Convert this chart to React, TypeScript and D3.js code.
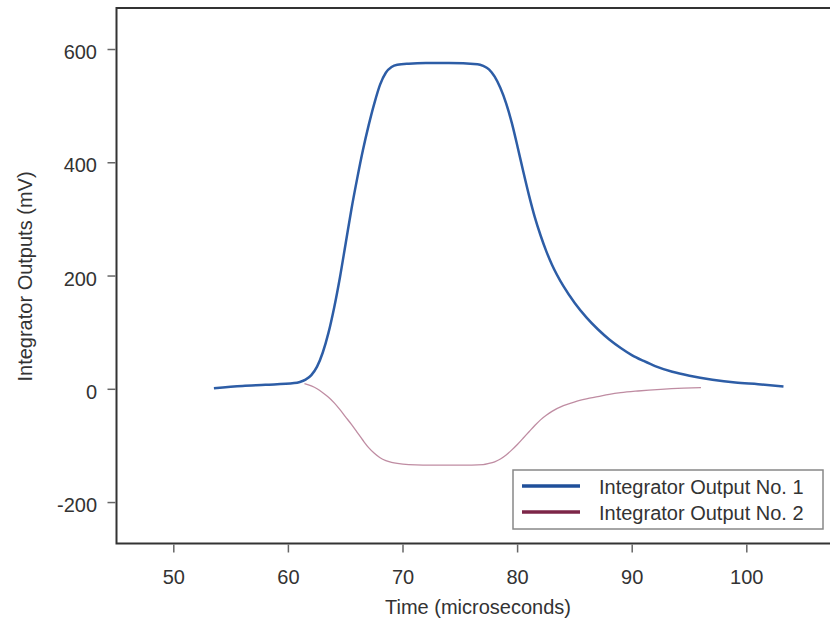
import React from "react";
import * as d3 from "d3";

const xTicks = [50, 60, 70, 80, 90, 100];
const yTicks = [-200, 0, 200, 400, 600];

const out1X = [53.5, 56, 58, 60.5, 61.0, 61.5, 62.0, 62.5, 63.0, 63.5, 64.0, 64.5, 65.0, 65.5, 66.0, 66.5, 67.0, 67.5, 68.0, 68.5, 69.0, 69.5, 70.5, 72, 74, 76.5, 77.0, 77.5, 78.0, 78.5, 79.0, 79.5, 80.0, 80.5, 81.0, 81.5, 82.0, 82.5, 83.0, 84.0, 85.0, 86.0, 87.0, 88.0, 89.0, 90.0, 91.0, 92.0, 93.5, 95.0, 97.0, 99.0, 101.0, 103.2];
const out1Y = [2, 6, 8, 11, 13, 17, 25, 40, 65, 100, 145, 198, 258, 318, 372, 422, 466, 505, 538, 559, 569, 573, 575, 576, 576, 574, 571, 565, 552, 532, 505, 470, 428, 384, 342, 304, 272, 244, 220, 182, 152, 127, 106, 88, 73, 60, 50, 41, 31, 24, 17, 12, 9, 5];

const out2X = [61.4, 62.0, 62.5, 63.0, 63.5, 64.0, 64.5, 65.0, 65.5, 66.0, 66.5, 67.0, 67.5, 68.0, 68.5, 69.0, 69.5, 70.5, 73, 75, 77.0, 77.5, 78.0, 78.5, 79.0, 79.5, 80.0, 80.5, 81.0, 81.5, 82.0, 82.5, 83.0, 84.0, 85.0, 86.0, 87.0, 88.0, 89.0, 90.5, 92.5, 94.5, 96];
const out2Y = [10, 6, 1, -6, -14, -24, -36, -49, -62, -76, -90, -103, -113, -121, -126, -129, -131, -133, -134, -134, -133, -131, -128, -123, -116, -107, -97, -86, -75, -64, -54, -46, -39, -29, -22, -17, -13, -9, -6, -3, 0, 2, 3];

const seriesNames = ["Integrator Output No. 1", "Integrator Output No. 2"];

const W = 830, H = 619;
const L = 116.5, R = 830, T = 8, B = 543.5;

export default function App() {
  const x = d3.scaleLinear().domain([45, 107.26]).range([L, R]);
  const y = d3.scaleLinear().domain([-272.3, 673.3]).range([B, T]);
  const line = d3.line<[number, number]>().x(d => x(d[0])).y(d => y(d[1])).curve(d3.curveMonotoneX);
  const d1 = line(out1X.map((v, i) => [v, out1Y[i]] as [number, number])) || "";
  const d2 = line(out2X.map((v, i) => [v, out2Y[i]] as [number, number])) || "";
  const font = "'Liberation Sans', Arial, Helvetica, sans-serif";
  const txt = "#333";
  return (
    <svg width={W} height={H} style={{ position: "absolute", left: 0, top: 0 }} fontFamily={font}>
      <rect x={0} y={0} width={W} height={H} fill="#fff" />
      <path d={d2} fill="none" stroke="#8b2e55" strokeWidth={1.3} strokeOpacity={0.55} />
      <path d={d1} fill="none" stroke="#2d5da6" strokeWidth={2.5} />
      <path d={`M${R + 2},${T} H${L} V${B} H${R + 2}`} fill="none" stroke="#333" strokeWidth={2} />
      {xTicks.map(t => (
        <g key={"x" + t}>
          <line x1={x(t)} x2={x(t)} y1={B + 1} y2={B + 9} stroke="#666" strokeWidth={1.5} />
          <text x={x(t)} y={584} textAnchor="middle" fontSize={20} fill={txt}>{t}</text>
        </g>
      ))}
      {yTicks.map(t => (
        <g key={"y" + t}>
          <line x1={L - 9} x2={L - 1} y1={y(t)} y2={y(t)} stroke="#666" strokeWidth={1.5} />
          <text x={97} y={y(t) + 9.5} textAnchor="end" fontSize={20} fill={txt}>{t}</text>
        </g>
      ))}
      <text x={478} y={614} textAnchor="middle" fontSize={20} fill={txt}>Time (microseconds)</text>
      <text transform={`translate(31.5,276.5) rotate(-90)`} textAnchor="middle" fontSize={20} fill={txt}>Integrator Outputs (mV)</text>
      <rect x={513} y={470} width={310} height={59} fill="#fff" stroke="#888" strokeWidth={1.5} />
      <line x1={522} x2={580} y1={486} y2={486} stroke="#1f4f9a" strokeWidth={3.5} />
      <line x1={522} x2={580} y1={512} y2={512} stroke="#7c2648" strokeWidth={3.5} />
      <text x={599} y={494} fontSize={20} fill={txt}>{seriesNames[0]}</text>
      <text x={599} y={520} fontSize={20} fill={txt}>{seriesNames[1]}</text>
    </svg>
  );
}
